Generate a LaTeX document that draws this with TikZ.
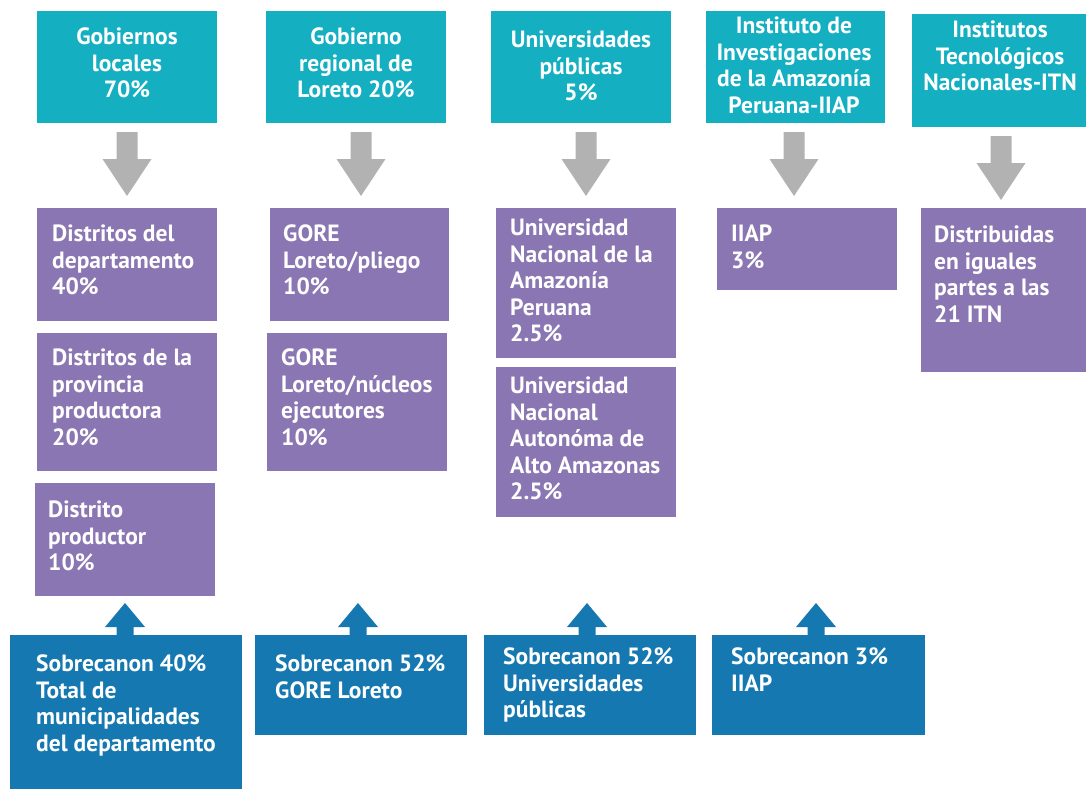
\documentclass[tikz,border=0pt]{standalone}
\usepackage{fontspec}
\setmainfont{PT Sans}
\usetikzlibrary{calc}
\definecolor{teal1}{RGB}{21,175,194}
\definecolor{purp}{RGB}{138,118,178}
\definecolor{blu}{RGB}{21,120,176}
\definecolor{gry}{RGB}{178,178,178}
\tikzset{
  bx/.style={anchor=north west, inner sep=0pt, outer sep=0pt},
  tealbox/.style={bx, fill=teal1},
  purpbox/.style={bx, fill=purp},
  blubox/.style={bx, fill=blu},
  ctxt/.style={anchor=north, inner sep=0pt, align=center, text=white, font=\fontsize{23.5}{26.5}\selectfont\bfseries},
  ltxt/.style={anchor=north west, inner sep=0pt, align=left, text=white, font=\fontsize{23.5}{26.5}\selectfont\bfseries},
  garrow/.style={fill=gry},
  barrow/.style={fill=blu}
}
\begin{document}
\begin{tikzpicture}[x=1pt,y=-1pt]
\useasboundingbox (0,0) rectangle (1086,789);
% top boxes
\node[tealbox, minimum width=180pt, minimum height=112pt] (t1) at (37,11) {};
\node[tealbox, minimum width=180pt, minimum height=112pt] (t2) at (266,11) {};
\node[tealbox, minimum width=180pt, minimum height=112pt] (t3) at (491,11) {};
\node[tealbox, minimum width=179pt, minimum height=112pt] (t4) at (706,11) {};
\node[tealbox, minimum width=174pt, minimum height=113pt] (t5) at (912,14) {};
\node[ctxt] (t1t) at (127,28) {Gobiernos\\locales\\70\%};
\node[ctxt] (t2t) at (356,28) {Gobierno\\regional de\\Loreto 20\%};
\node[ctxt] (t3t) at (581,31) {Universidades\\públicas\\5\%};
\node[ctxt] (t4t) at (794,17) {Instituto de\\Investigaciones\\de la Amazonía\\Peruana-IIAP};
\node[ctxt] (t5t) at (1000,21) {Institutos\\Tecnológicos\\Nacionales-ITN};
% purple boxes
\node[purpbox, minimum width=180pt, minimum height=113pt] (p1) at (37,208) {};
\node[purpbox, minimum width=180pt, minimum height=138pt] (p2) at (37,333) {};
\node[purpbox, minimum width=180pt, minimum height=113pt] (p3) at (35,483) {};
\node[purpbox, minimum width=179pt, minimum height=113pt] (p4) at (270,208) {};
\node[purpbox, minimum width=180pt, minimum height=138pt] (p5) at (267,333) {};
\node[purpbox, minimum width=180pt, minimum height=150pt] (p6) at (496,208) {};
\node[purpbox, minimum width=180pt, minimum height=150pt] (p7) at (496,367) {};
\node[purpbox, minimum width=180pt, minimum height=82pt] (p8) at (717,208) {};
\node[purpbox, minimum width=165pt, minimum height=164pt] (p9) at (921,208) {};
\node[ltxt] (p1t) at (52,225) {Distritos del\\departamento\\40\%};
\node[ltxt] (p2t) at (52,349) {Distritos de la\\provincia\\productora\\20\%};
\node[ltxt] (p3t) at (48,501) {Distrito\\productor\\10\%};
\node[ltxt] (p4t) at (283,225) {GORE\\Loreto/pliego\\10\%};
\node[ltxt] (p5t) at (281,349) {GORE\\Loreto/núcleos\\ejecutores\\10\%};
\node[ltxt] (p6t) at (510,219) {Universidad\\Nacional de la\\Amazonía\\Peruana\\2.5\%};
\node[ltxt] (p7t) at (510,377) {Universidad\\Nacional\\Autonóma de\\Alto Amazonas\\2.5\%};
\node[ltxt] (p8t) at (731,225) {IIAP\\3\%};
\node[ltxt] (p9t) at (934,226) {Distribuidas\\en iguales\\partes a las\\21 ITN};
% bottom boxes
\node[blubox, minimum width=232pt, minimum height=154pt] (b1) at (10,635) {};
\node[blubox, minimum width=212pt, minimum height=100pt] (b2) at (255,635) {};
\node[blubox, minimum width=212pt, minimum height=100pt] (b3) at (484,635) {};
\node[blubox, minimum width=213pt, minimum height=100pt] (b4) at (712,635) {};
\node[ltxt] (b1t) at (36,655) {Sobrecanon 40\%\\Total de\\municipalidades\\del departamento};
\node[ltxt] (b2t) at (275,655) {Sobrecanon 52\%\\GORE Loreto};
\node[ltxt] (b3t) at (503,648) {Sobrecanon 52\%\\Universidades\\públicas};
\node[ltxt] (b4t) at (731,648) {Sobrecanon 3\%\\IIAP};
% gray arrows (top box -> purple box)
\foreach \n/\dx in {t1/0,t2/5,t3/5,t4/-1.5,t5/2}{
  \fill[garrow] ($(\n.south)+(\dx,0)+(-10.5,9)$) -- ++(21,0) -- ++(0,27) -- ++(14,0)
     -- ++(-24.5,37) -- ++(-24.5,-37) -- ++(14,0) -- cycle;
}
% blue arrows (bottom box -> up)
\foreach \n/\dx in {b1/-1,b2/-3,b3/-3,b4/-2.5}{
  \fill[barrow] ($(\n.north)+(\dx,0)+(-8.5,0.5)$) -- ++(0,-8.5) -- ++(-11.5,0) -- ++(20,-24)
     -- ++(20,24) -- ++(-11.5,0) -- ++(0,8.5) -- cycle;
}
\end{tikzpicture}
\end{document}
